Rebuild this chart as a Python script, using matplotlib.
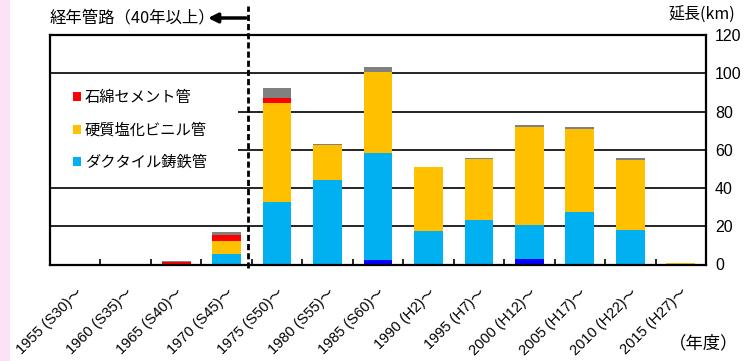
import matplotlib
matplotlib.use("Agg")
import matplotlib.pyplot as plt
import numpy as np
from matplotlib.patches import Patch, Rectangle
from matplotlib.lines import Line2D

plt.rcParams['font.family'] = ['Noto Sans CJK JP', 'DejaVu Sans']
LATIN = ['Liberation Sans', 'Noto Sans CJK JP']

categories = ["1955 (S30)〜", "1960 (S35)〜", "1965 (S40)〜", "1970 (S45)〜",
              "1975 (S50)〜", "1980 (S55)〜", "1985 (S60)〜", "1990 (H2)〜",
              "1995 (H7)〜", "2000 (H12)〜", "2005 (H17)〜", "2010 (H22)〜",
              "2015 (H27)〜"]
steel    = [0.0, 0.3, 0.0, 0.0, 0.0, 0.0, 2.2, 0.0, 0.5, 2.7, 0.3, 0.5, 0.0]
ductile  = [0.0, 0.0, 0.0, 5.6, 32.8, 44.3, 56.1, 17.5, 22.6, 18.1, 27.3, 17.7, 0.0]
pvc      = [0.0, 0.0, 0.4, 6.8, 51.6, 18.0, 42.2, 33.3, 32.2, 51.2, 43.2, 36.6, 0.6]
asbestos = [0.0, 0.0, 1.0, 3.0, 2.8, 0.0, 0.0, 0.0, 0.0, 0.0, 0.0, 0.0, 0.0]
other    = [0.0, 0.0, 0.2, 1.4, 4.9, 0.5, 2.8, 0.3, 0.5, 0.8, 0.9, 0.7, 0.0]

series = [
    ("鋼管", steel, "#0000FF"),
    ("ダクタイル鋳鉄管", ductile, "#00B0F0"),
    ("硬質塩化ビニル管", pvc, "#FFC000"),
    ("石綿セメント管", asbestos, "#FF0000"),
    ("その他", other, "#808080"),
]

fig = plt.figure(figsize=(7.44, 3.61), dpi=100)
fig.patches.append(Rectangle((0, 0), 10/744, 1, transform=fig.transFigure,
                             facecolor="#FBE3F6", edgecolor="none", zorder=0))
ax = fig.add_axes([50/744, (361-264.5)/361, 656/744, 229.5/361])

x = np.arange(len(categories))
bottom = np.zeros(len(categories))
for name, vals, col in series:
    v = np.array(vals)
    ax.bar(x, v, width=0.57, bottom=bottom, color=col, edgecolor="none",
           zorder=2)
    bottom += v

ax.set_xlim(-0.5, len(categories) - 0.5)
ax.set_ylim(0, 120)
ax.set_yticks(np.arange(0, 121, 20))
ax.yaxis.tick_right()
ax.tick_params(axis='y', length=0, pad=6.5, labelsize=11.5)
for t in ax.get_yticklabels():
    t.set_family(LATIN)
ax.set_axisbelow(True)
ax.yaxis.grid(True, color="black", linewidth=1.2)

ax.set_xticks(x)
ax.set_xticklabels(categories, rotation=45, ha='right', va='top',
                   rotation_mode='anchor', fontsize=10.5, family=LATIN)
ax.tick_params(axis='x', which='major', length=0, pad=15)
ax.set_xticks(np.arange(0.5, len(categories) - 0.5, 1), minor=True)
ax.tick_params(axis='x', which='minor', direction='in', length=4, width=1.2)

for s in ax.spines.values():
    s.set_linewidth(1.6)
    s.set_color("black")

# white legend background
ax.add_patch(Rectangle((0, 0.39), (238-50)/656, 0.405, transform=ax.transAxes,
                       facecolor="white", edgecolor="none", zorder=1))
handles = [Patch(facecolor="#FF0000", label="石綿セメント管"),
           Patch(facecolor="#FFC000", label="硬質塩化ビニル管"),
           Patch(facecolor="#00B0F0", label="ダクタイル鋳鉄管")]
ax.legend(handles=handles, loc='center left', bbox_to_anchor=(23/656, 0.586),
          frameon=False, borderpad=0, borderaxespad=0, fontsize=11,
          handlelength=0.52, handleheight=0.52, handletextpad=0.25,
          labelspacing=1.0)

# dashed divider line
ax.add_line(Line2D([3.42, 3.42], [-0.016, 1.125], transform=ax.get_xaxis_transform(),
                   color="black", linewidth=2, linestyle=(0, (2.2, 1.1)),
                   clip_on=False, zorder=5))

fig.text(50/744, 1 - 18/361, "経年管路（40年以上）", fontsize=11.8, ha='left', va='center')
ax.annotate("", xy=(208/744, 1 - 18/361), xytext=(246/744, 1 - 18/361),
            xycoords='figure fraction', textcoords='figure fraction',
            arrowprops=dict(arrowstyle='-|>', lw=2.5, color='black',
                            mutation_scale=14, shrinkA=0, shrinkB=0))
fig.text(735/744, 1 - 15/361, "延長(km)", fontsize=11.5, ha='right', va='center')
fig.text(738/744, 1 - 343/361, "（年度）", fontsize=12.5, ha='right', va='center')

fig.savefig("out.png", dpi=100)
